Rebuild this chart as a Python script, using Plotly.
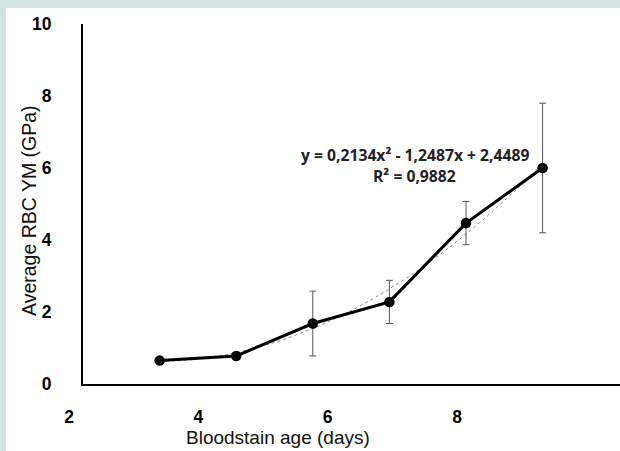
import numpy as np
import plotly.graph_objects as go

# ---- data ----
days = [3, 4, 5, 6, 7, 8]
ym_mean = [0.65, 0.78, 1.68, 2.28, 4.47, 6.0]
ym_err = [0.0, 0.0, 0.9, 0.6, 0.6, 1.8]
fit_coef = [0.2134, -1.2487, 2.4489]  # quadratic trendline shown on chart
eq_text = "y = 0,2134x² - 1,2487x + 2,4489"
r2_text = "R² = 0,9882"
x_tick_vals = [2, 4, 6, 8]
x_tick_text = ["2", "4", "6", "8"]
y_tick_vals = [0, 2, 4, 6, 8, 10]
y_tick_text = ["0", "2", "4", "6", "8", "10"]
x_title = "Bloodstain age (days)"
y_title = "Average RBC YM (GPa)"

W, H = 620, 451
ML, MR, MT, MB = 50, 0, 24, 67
PW = W - ML - MR
PH = H - MT - MB
BORDER = "#d3e3e2"

fit_x = np.linspace(days[0], days[-1], 60)
fit_y = np.polyval(fit_coef, fit_x)

fig = go.Figure()
# trendline
fig.add_trace(go.Scatter(x=fit_x, y=fit_y, mode="lines",
                         line=dict(color="#8a8a8a", width=1, dash="dot"),
                         hoverinfo="skip", showlegend=False))
# data with error bars
fig.add_trace(go.Scatter(x=days, y=ym_mean, mode="lines+markers",
                         line=dict(color="black", width=3),
                         marker=dict(color="black", size=10.5),
                         error_y=dict(type="data", array=ym_err, visible=True,
                                      color="#555555", thickness=1, width=3.5),
                         cliponaxis=False, showlegend=False))
# empty trace to host the label axis
fig.add_trace(go.Scatter(x=[], y=[], xaxis="x2", showlegend=False))

tick_font = dict(family="Liberation Sans", size=17.5, color="black", weight="bold")

fig.update_layout(
    width=W, height=H,
    margin=dict(l=ML, r=MR, t=MT, b=MB),
    paper_bgcolor="white", plot_bgcolor="rgba(0,0,0,0)",
    xaxis=dict(domain=[(83 - ML) / PW, 1], range=[2, 2 + 537 / 76.6], anchor="y",
               showline=True, linecolor="black", linewidth=2,
               showticklabels=False, ticks="", showgrid=False, zeroline=False),
    xaxis2=dict(domain=[0, 1], anchor="y", range=[2 - (69 - ML) / 64.67, 2 - (69 - ML) / 64.67 + PW / 64.67],
                tickvals=x_tick_vals, ticktext=x_tick_text, tickfont=tick_font,
                showline=False, ticks="", showgrid=False, zeroline=False,
                ticklabelstandoff=20),
    yaxis=dict(domain=[0, 1], anchor="x", range=[0, 10],
               tickvals=y_tick_vals, ticktext=y_tick_text, tickfont=tick_font,
               showline=True, linecolor="black", linewidth=2,
               ticks="", showgrid=False, zeroline=False,
               ticklabelstandoff=26),
    shapes=[
        dict(type="rect", xref="paper", yref="paper",
             x0=(0 - ML) / PW, x1=(6 - ML) / PW, y0=(MT + PH - H) / PH, y1=(MT + PH) / PH,
             fillcolor=BORDER, line=dict(width=0), layer="below"),
        dict(type="rect", xref="paper", yref="paper",
             x0=(0 - ML) / PW, x1=1, y0=(MT + PH - 8) / PH, y1=(MT + PH) / PH,
             fillcolor=BORDER, line=dict(width=0), layer="below"),
    ],
    annotations=[
        dict(text=x_title, xref="paper", yref="paper",
             x=(277.5 - ML) / PW, y=(MT + PH - 437) / PH, showarrow=False,
             xanchor="center", yanchor="middle",
             font=dict(family="Liberation Sans", size=19, color="#111111")),
        dict(text=y_title, xref="paper", yref="paper", textangle=-90,
             x=(29 - ML) / PW, y=(MT + PH - 211) / PH, showarrow=False,
             xanchor="center", yanchor="middle",
             font=dict(family="Liberation Sans", size=19.5, color="#111111")),
        dict(text=eq_text, xref="x", yref="y", x=6.33, y=6.36, showarrow=False,
             xanchor="center", yanchor="middle",
             font=dict(family="Open Sans", size=15.7, color="#222222", weight="bold")),
        dict(text=r2_text, xref="x", yref="y", x=6.33, y=5.78, showarrow=False,
             xanchor="center", yanchor="middle",
             font=dict(family="Open Sans", size=15.7, color="#222222", weight="bold")),
    ],
)

fig.write_html("out.html", config={"displayModeBar": False},
               post_script="document.body.style.margin='0';")
